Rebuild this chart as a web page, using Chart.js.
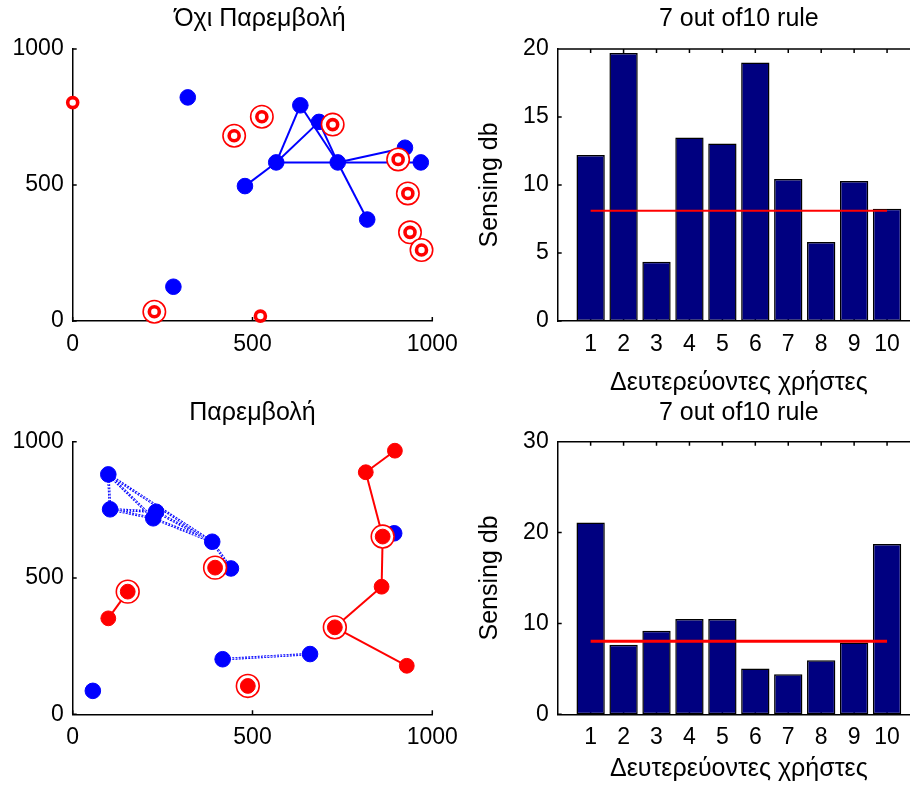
<!DOCTYPE html>
<html>
<head>
<meta charset="utf-8">
<script src="https://cdn.jsdelivr.net/npm/chart.js@4.4.1/dist/chart.umd.min.js"></script>
<style>
html,body{margin:0;padding:0;background:#fff;overflow:hidden;width:910px;height:787px;}
.box{position:absolute;}
canvas{display:block;}
</style>
</head>
<body>
<div class="box" style="left:0;top:0"><canvas id="c1" width="540" height="393"></canvas></div>
<div class="box" style="left:0;top:393px"><canvas id="c3" width="540" height="394"></canvas></div>
<div class="box" style="left:460px;top:0"><canvas id="c2" width="470" height="400"></canvas></div>
<div class="box" style="left:460px;top:393px"><canvas id="c4" width="470" height="394"></canvas></div>
<script>
// ---------------- DATA ----------------
// Top-left: "Όχι Παρεμβολή"
const tlTitle = 'Όχι Παρεμβολή';
const tlBlueX = [320, 280, 479, 566, 633, 685, 737, 819, 924, 968];
const tlBlueY = [822, 126, 496, 583, 793, 732, 583, 373, 637, 583];
const tlLinks = [[2,3],[3,4],[3,5],[3,6],[4,6],[5,6],[6,7],[6,8],[6,9]];
const tlRingX = [449, 526, 723, 905, 932, 938, 970, 227];
const tlRingY = [681, 751, 722, 594, 469, 326, 261, 34];
const tlSingleX = [0, 522];
const tlSingleY = [803, 18];

// Bottom-left: "Παρεμβολή"
const blTitle = 'Παρεμβολή';
const blBlueX = [99, 104, 232, 224, 388, 440, 417, 660, 56, 894];
const blBlueY = [880, 752, 743, 719, 633, 535, 202, 221, 86, 664];
const blBlueLinks = [[0,1],[0,3],[0,4],[1,2],[1,3],[2,4],[3,4],[4,5],[6,7]];
const blRedX = [99, 153, 396, 862, 859, 729, 929, 815, 896, 487];
const blRedY = [352, 450, 538, 652, 468, 319, 178, 888, 967, 104];
const blRinged = [1, 2, 3, 5, 9];
const blRedLinks = [[0,1],[7,8],[7,3],[3,4],[4,5],[5,6]];

const posTicks = [0, 500, 1000];

// Right: bar charts
const barTitle = '7 out of10 rule';
const yTitle = 'Sensing db';
const xTitle = 'Δευτερεύοντες χρήστες';
const users = [1, 2, 3, 4, 5, 6, 7, 8, 9, 10];
const sensingTop = [12.2, 19.7, 4.35, 13.5, 13.05, 19.0, 10.45, 5.8, 10.3, 8.25];
const thresholdTop = 8.1;
const yTicksTop = [0, 5, 10, 15, 20];
const sensingBottom = [21.1, 7.65, 9.2, 10.5, 10.5, 5.05, 4.4, 5.95, 7.9, 18.75];
const thresholdBottom = 8.05;
const yTicksBottom = [0, 10, 20, 30];

// ---------------- STYLE ----------------
const FONT = "'Liberation Sans', Arial, sans-serif";
Chart.defaults.font.family = FONT;
Chart.defaults.color = '#000';
const BLUE = '#0000ff', RED = '#ff0000', NAVY = '#000080';

const matlabAxes = {
  id: 'matlabAxes',
  beforeDatasetsDraw(chart, args, opts) {
    const {ctx, chartArea: a, scales} = chart;
    const len = 4;
    ctx.save();
    ctx.strokeStyle = '#000';
    ctx.lineWidth = 1.5;
    ctx.beginPath();
    const xs = scales.x, ys = scales.y;
    xs.ticks.forEach(t => {
      if (t.label === '') return;
      const px = xs.getPixelForValue(t.value);
      ctx.moveTo(px, a.bottom); ctx.lineTo(px, a.bottom - len);
      if (opts.box) { ctx.moveTo(px, a.top); ctx.lineTo(px, a.top + len); }
    });
    ys.ticks.forEach(t => {
      const py = ys.getPixelForValue(t.value);
      ctx.moveTo(a.left, py); ctx.lineTo(a.left + len, py);
    });
    if (opts.box) { ctx.moveTo(a.left, a.top); ctx.lineTo(a.right, a.top); }
    ctx.stroke();
    ctx.restore();
  }
};

const pts = (xs, ys) => xs.map((x, i) => ({x, y: ys[i]}));
const tickFont = {family: FONT, size: 23};
const titleFont = {family: FONT, size: 25, weight: 'normal'};

function posScale(fixed, axis) {
  return {
    type: 'linear', min: 0, max: 1000, offset: false,
    afterFit: s => { if (axis === 'x') s.height = fixed; else s.width = fixed; },
    afterBuildTicks: s => { s.ticks = posTicks.map(v => ({value: v})); },
    ticks: {font: tickFont, color: '#000', padding: axis === 'x' ? 9.7 : 9, maxRotation: 0, autoSkip: false,
            callback: v => String(v)},
    grid: {display: false, drawTicks: false},
    border: {display: true, color: '#000', width: 1.5}
  };
}
const spacerScale = w => ({position: 'right', display: true, afterFit: s => { s.width = w; },
  ticks: {display: false}, grid: {display: false, drawTicks: false}, border: {display: false}});

function lineSet(p1, p2, color, width, dash, order) {
  return {data: [p1, p2], showLine: true, borderColor: color, borderWidth: width,
          borderDash: dash || [], pointRadius: 0, clip: false, order};
}

const baseOpts = {responsive: false, animation: false, events: [], devicePixelRatio: 1};

// ---------------- TOP-LEFT ----------------
(function () {
  const blue = pts(tlBlueX, tlBlueY);
  const ds = [];
  ds.push({data: pts(tlSingleX, tlSingleY), pointRadius: 5, pointBorderWidth: 3.6,
           pointBorderColor: RED, pointBackgroundColor: '#fff', clip: false, order: 0});
  ds.push({data: pts(tlRingX, tlRingY), pointRadius: 5, pointBorderWidth: 3.6,
           pointBorderColor: RED, pointBackgroundColor: '#fff', clip: false, order: 1});
  ds.push({data: pts(tlRingX, tlRingY), pointRadius: 11.2, pointBorderWidth: 1.6,
           pointBorderColor: RED, pointBackgroundColor: '#fff', clip: false, order: 2});
  ds.push({data: blue, pointRadius: 7.8, pointBorderWidth: 1, pointBorderColor: BLUE,
           pointBackgroundColor: BLUE, clip: false, order: 3});
  tlLinks.forEach(([a, b]) => ds.push(lineSet(blue[a], blue[b], BLUE, 2, null, 4)));
  new Chart(document.getElementById('c1'), {
    type: 'scatter',
    data: {datasets: ds},
    options: Object.assign({}, baseOpts, {
      layout: {padding: {left: 0, right: 20, top: 0, bottom: 0}},
      plugins: {legend: {display: false}, tooltip: {enabled: false},
        title: {display: true, text: tlTitle, fullSize: true, font: titleFont, color: '#000',
                padding: {top: 4.6, bottom: 14.4}},
        matlabAxes: {box: false}},
      scales: {
        x: posScale(72, 'x'),
        y: posScale(72.7, 'y'),
        y2: spacerScale(87.7)
      }
    }),
    plugins: [matlabAxes]
  });
})();

// ---------------- BOTTOM-LEFT ----------------
(function () {
  const blue = pts(blBlueX, blBlueY);
  const red = pts(blRedX, blRedY);
  const ringed = blRinged.map(i => red[i]);
  const ds = [];
  ds.push({data: red, pointRadius: 7.4, pointBorderWidth: 1, pointBorderColor: RED,
           pointBackgroundColor: RED, clip: false, order: 0});
  ds.push({data: ringed, pointRadius: 11.4, pointBorderWidth: 1.6, pointBorderColor: RED,
           pointBackgroundColor: '#fff', clip: false, order: 1});
  blRedLinks.forEach(([a, b]) => ds.push(lineSet(red[a], red[b], RED, 2, null, 2)));
  ds.push({data: blue, pointRadius: 7.8, pointBorderWidth: 1, pointBorderColor: BLUE,
           pointBackgroundColor: BLUE, clip: false, order: 3});
  blBlueLinks.forEach(([a, b]) => {
    ds.push(lineSet(blue[a], blue[b], '#ffffff', 0.8, [2, 1], 4));
    ds.push(lineSet(blue[a], blue[b], BLUE, 2.6, [2, 1.2], 5));
  });
  new Chart(document.getElementById('c3'), {
    type: 'scatter',
    data: {datasets: ds},
    options: Object.assign({}, baseOpts, {
      layout: {padding: {left: 0, right: 20, top: 0, bottom: 0}},
      plugins: {legend: {display: false}, tooltip: {enabled: false},
        title: {display: true, text: blTitle, fullSize: false, font: titleFont, color: '#000',
                padding: {top: 5, bottom: 13.7}},
        matlabAxes: {box: false}},
      scales: {
        x: posScale(72.7, 'x'),
        y: posScale(72.7, 'y'),
        y2: spacerScale(87.7)
      }
    }),
    plugins: [matlabAxes]
  });
})();

// ---------------- BAR CHARTS ----------------
function barChart(id, values, threshold, yTicks, redWidth, titlePad, xHeight, xTitlePadBottom) {
  new Chart(document.getElementById(id), {
    type: 'bar',
    data: {datasets: [
      {type: 'line', data: [{x: users[0], y: threshold}, {x: users[users.length - 1], y: threshold}],
       borderColor: RED, borderWidth: redWidth, pointRadius: 0, order: 0},
      {type: 'bar', data: pts(users, values), backgroundColor: NAVY, borderColor: '#000',
       borderWidth: 1.5, borderSkipped: false, barPercentage: 0.86, categoryPercentage: 1, order: 1}
    ]},
    options: Object.assign({}, baseOpts, {
      layout: {padding: {left: 0, right: 10, top: 0, bottom: 0}},
      plugins: {legend: {display: false}, tooltip: {enabled: false},
        title: {display: true, text: barTitle, fullSize: false, font: titleFont, color: '#000',
                padding: titlePad},
        matlabAxes: {box: true}},
      scales: {
        x: {type: 'linear', min: 0, max: users.length + 1, offset: false,
            afterFit: s => { s.height = xHeight; },
            afterBuildTicks: s => { s.ticks = [0].concat(users, [users.length + 1]).map(v => ({value: v})); },
            ticks: {font: tickFont, color: '#000', padding: 9.7, maxRotation: 0, autoSkip: false,
                    callback: v => users.includes(v) ? String(v) : ''},
            grid: {display: false, drawTicks: false},
            border: {display: true, color: '#000', width: 1.5},
            title: {display: true, text: xTitle, font: titleFont, color: '#000',
                    padding: {top: 0, bottom: xTitlePadBottom}}},
        y: {type: 'linear', min: yTicks[0], max: yTicks[yTicks.length - 1],
            afterFit: s => { s.width = 97.7; },
            afterBuildTicks: s => { s.ticks = yTicks.map(v => ({value: v})); },
            ticks: {font: tickFont, color: '#000', padding: 9},
            grid: {display: false, drawTicks: false},
            border: {display: true, color: '#000', width: 1.5},
            title: {display: true, text: yTitle, font: titleFont, color: '#000',
                    padding: {top: 15, bottom: 0}}}
      }
    }),
    plugins: [matlabAxes]
  });
}
barChart('c2', sensingTop, thresholdTop, yTicksTop, 2, {top: 4.6, bottom: 14.4}, 79, 2);
barChart('c4', sensingBottom, thresholdBottom, yTicksBottom, 3, {top: 5, bottom: 13.7}, 72.7, 2.4);
</script>
</body>
</html>
